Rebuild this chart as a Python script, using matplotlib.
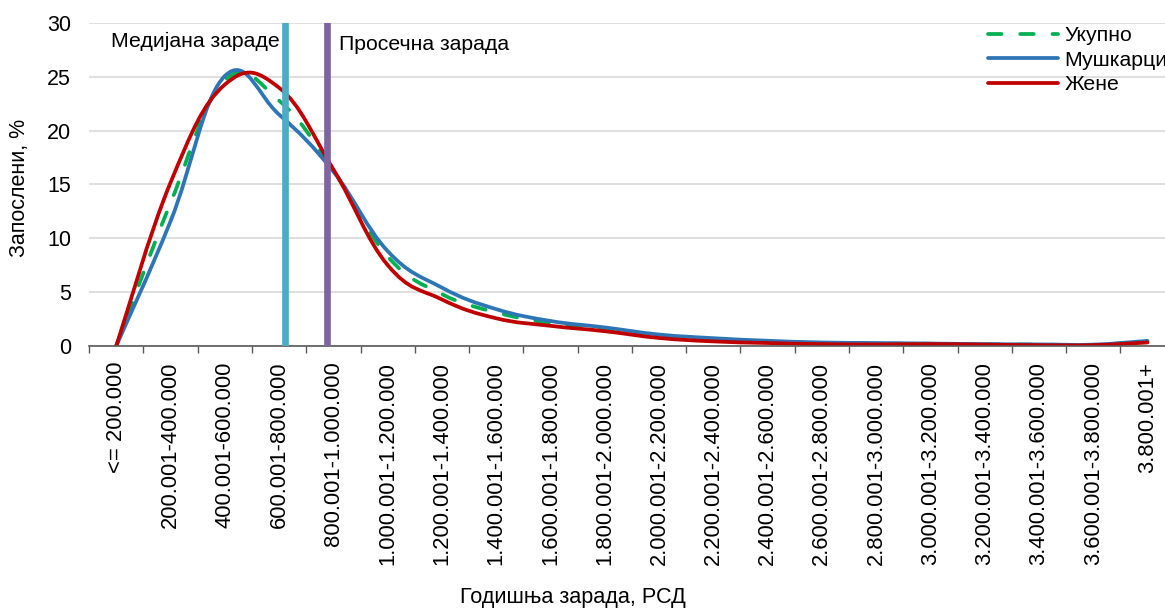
import matplotlib
matplotlib.use("Agg")
import matplotlib.pyplot as plt
from matplotlib.path import Path
from matplotlib.patches import PathPatch
from matplotlib.lines import Line2D

plt.rcParams['font.family'] = ['Liberation Sans', 'DejaVu Sans']

# wage brackets (annual, RSD)
categories = ["<= 200.000", "200.001-400.000", "400.001-600.000", "600.001-800.000",
              "800.001-1.000.000", "1.000.001-1.200.000", "1.200.001-1.400.000",
              "1.400.001-1.600.000", "1.600.001-1.800.000", "1.800.001-2.000.000",
              "2.000.001-2.200.000", "2.200.001-2.400.000", "2.400.001-2.600.000",
              "2.600.001-2.800.000", "2.800.001-3.000.000", "3.000.001-3.200.000",
              "3.200.001-3.400.000", "3.400.001-3.600.000", "3.600.001-3.800.000",
              "3.800.001+"]

# share of employees, %
total = [0, 13.3, 24.7, 22.8, 16.3, 8.3, 4.8, 3.1, 2.1, 1.5, 0.88, 0.6, 0.4, 0.25,
         0.2, 0.18, 0.12, 0.1, 0.08, 0.4]
men = [0, 11.6, 25.1, 21.5, 16.2, 8.8, 5.4, 3.4, 2.3, 1.7, 1.04, 0.7, 0.46, 0.3,
       0.25, 0.2, 0.15, 0.12, 0.1, 0.45]
women = [0, 15.2, 24.3, 24.0, 16.4, 7.5, 4.3, 2.55, 1.85, 1.35, 0.72, 0.4, 0.25, 0.15,
         0.12, 0.15, 0.1, 0.05, 0.05, 0.3]

# median and mean wage, in bracket units
median_pos = 3.11
mean_pos = 3.88


def smooth_path(xs, ys, k=0.2):
    # excel-like smoothed line: cardinal spline turned into cubic beziers
    verts = [(xs[0], ys[0])]
    codes = [Path.MOVETO]
    n = len(xs)
    for i in range(n - 1):
        a = max(i - 1, 0)
        b = min(i + 2, n - 1)
        c1 = (xs[i] + (xs[i + 1] - xs[a]) * k, ys[i] + (ys[i + 1] - ys[a]) * k)
        c2 = (xs[i + 1] - (xs[b] - xs[i]) * k, ys[i + 1] - (ys[b] - ys[i]) * k)
        verts += [c1, c2, (xs[i + 1], ys[i + 1])]
        codes += [Path.CURVE4] * 3
    return Path(verts, codes)


fig = plt.figure(figsize=(11.65, 6.08), dpi=100)
ax = fig.add_axes([89.2 / 1165, 1 - 345.7 / 608, 1085.4 / 1165, 322.4 / 608])

x = list(range(len(categories)))
green, blue, red = "#00B050", "#2E75B6", "#C00000"
dash = (0, (3.6, 5.0))

series = [(total, green, dash, "Укупно"),
          (men, blue, "-", "Мушкарци"),
          (women, red, "-", "Жене")]
handles = []
for vals, col, ls, lab in series:
    p = PathPatch(smooth_path(x, vals), fill=False, edgecolor=col, lw=2.7,
                  linestyle=ls, zorder=3)
    p.set_capstyle('round')
    ax.add_patch(p)
    handles.append(Line2D([], [], color=col, lw=2.7, linestyle=ls,
                          dash_capstyle='round', solid_capstyle='round'))

ax.axvline(median_pos, color="#4BACC6", lw=4.8, zorder=5)
ax.axvline(mean_pos, color="#8064A2", lw=4.8, zorder=5)
ax.text(3.02, 27.8, "Медијана зараде", ha="right", va="baseline", fontsize=15.3)
ax.text(4.10, 27.5, "Просечна зарада", ha="left", va="baseline", fontsize=15.3)

ax.set_xlim(-0.5, len(categories) - 0.5)
ax.set_ylim(0, 30)
ax.set_yticks(range(0, 31, 5))
ax.set_xticks(x)
ax.set_xticklabels(categories, rotation=90)
ax.set_xticks([i - 0.5 for i in x], minor=True)
ax.tick_params(axis="x", which="major", length=0, pad=11.5, labelsize=15.8)
ax.tick_params(axis="x", which="minor", length=5, width=1, color="#595959")
ax.tick_params(axis="y", length=0, pad=13, labelsize=15.5)
ax.grid(axis="y", color="#D9D9D9", lw=1.2)
ax.set_axisbelow(True)
for s in ["top", "right", "left"]:
    ax.spines[s].set_visible(False)
ax.spines["bottom"].set_color("#595959")
ax.spines["bottom"].set_linewidth(1.2)
ax.spines["bottom"].set_zorder(4)

fig.text(20 / 1165, 1 - 188 / 608, "Запослени, %", rotation=90, ha="center",
         va="center", fontsize=15.5)
fig.text(573 / 1165, 1 - 598 / 608, "Годишња зарада, РСД", ha="center",
         va="center", fontsize=15.6)

fig.legend(handles, [s[3] for s in series], loc="upper left",
           bbox_to_anchor=(988 / 1165, 1 - 26 / 608), frameon=False,
           fontsize=15.3, handlelength=3.3, handletextpad=0.3, labelspacing=0.27,
           borderpad=0, borderaxespad=0)

fig.savefig("out.png", dpi=100)
